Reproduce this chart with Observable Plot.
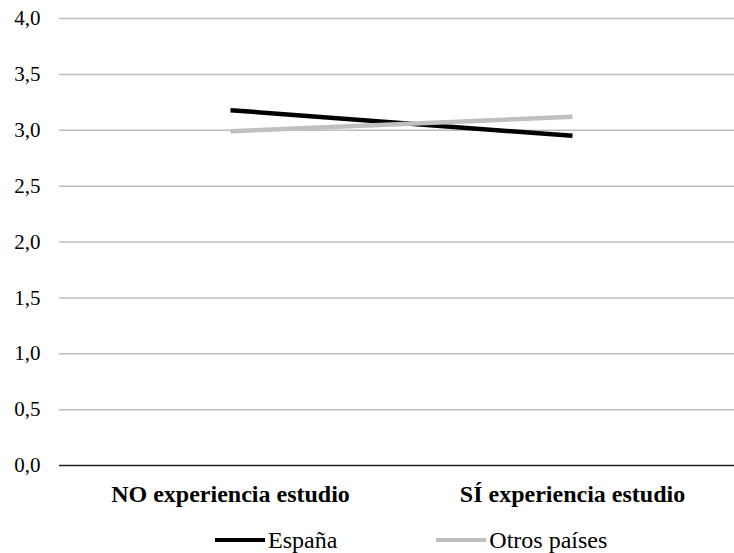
<!DOCTYPE html>
<html>
<head>
<meta charset="utf-8">
<script src="https://cdn.jsdelivr.net/npm/d3@7"></script>
<script src="https://cdn.jsdelivr.net/npm/@observablehq/plot@0.6"></script>
<style>
  html, body { margin: 0; padding: 0; background: #fff; }
  #chart { width: 734px; overflow: hidden; }
  .legend { display: flex; align-items: center; height: 38px; padding-top: 6px; padding-left: 215px;
            font-family: "Liberation Serif", "Times New Roman", Times, "DejaVu Serif", serif; font-size: 24px; color: #000; }
  .legend .item { display: flex; align-items: center; }
  .legend .sw { width: 50px; height: 4px; margin-right: 3px; }
  svg text { font-family: "Liberation Serif", "Times New Roman", Times, "DejaVu Serif", serif; }
</style>
</head>
<body>
<div id="chart"></div>
<script>
const categories = ["NO experiencia estudio", "SÍ experiencia estudio"];
const seriesNames = ["España", "Otros países"];
const espana = [3.18, 2.95];
const otros = [2.99, 3.12];
const yTicks = [0, 0.5, 1, 1.5, 2, 2.5, 3, 3.5, 4];
const colors = ["#000000", "#bfbfbf"];

const data = [
  ...categories.map((c, i) => ({cat: c, value: espana[i], series: seriesNames[0]})),
  ...categories.map((c, i) => ({cat: c, value: otros[i], series: seriesNames[1]}))
];

const fmt = d => d.toFixed(1).replace(".", ",");

const plot = Plot.plot({
  width: 734,
  height: 515,
  marginLeft: 59,
  marginRight: 0,
  marginTop: 18,
  marginBottom: 50,
  style: {fontFamily: "'Liberation Serif', 'Times New Roman', Times, 'DejaVu Serif', serif", color: "#000", background: "#fff"},
  x: {type: "point", domain: categories, range: [230, 572], padding: 0},
  y: {domain: [0, 4]},
  color: {domain: seriesNames, range: colors},
  marks: [
    Plot.ruleY(yTicks.filter(d => d > 0), {stroke: "#bdbdbd", strokeWidth: 1.5}),
    Plot.ruleY([0], {stroke: "#222", strokeWidth: 1.5}),
    Plot.axisY({ticks: yTicks, tickFormat: fmt, tickSize: 0, tickPadding: 19, fontSize: 21, label: null}),
    Plot.axisX({tickSize: 0, tickPadding: 19, fontSize: 24, fontWeight: "bold", label: null}),
    Plot.line(data, {x: "cat", y: "value", z: "series", stroke: "series", strokeWidth: 4.5, strokeLinecap: "butt"})
  ]
});
document.getElementById("chart").appendChild(plot);

const legend = document.createElement("div");
legend.className = "legend";
seriesNames.forEach((name, i) => {
  const item = document.createElement("div");
  item.className = "item";
  if (i > 0) item.style.marginLeft = "99px";
  const sw = document.createElement("div");
  sw.className = "sw";
  sw.style.background = colors[i];
  const t = document.createElement("span");
  t.textContent = name;
  item.appendChild(sw);
  item.appendChild(t);
  legend.appendChild(item);
});
document.getElementById("chart").appendChild(legend);
</script>
</body>
</html>
